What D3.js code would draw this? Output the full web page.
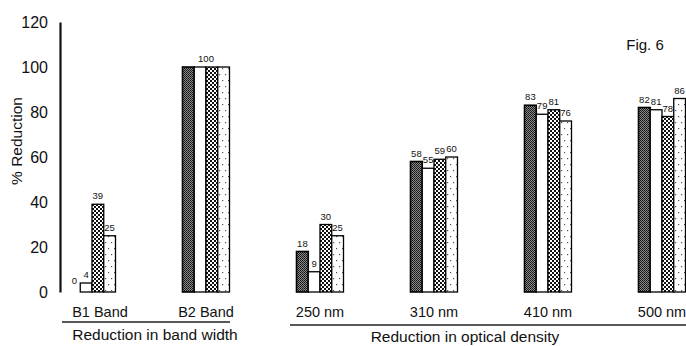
<!DOCTYPE html>
<html>
<head>
<meta charset="utf-8">
<script src="https://cdn.jsdelivr.net/npm/d3@7"></script>
<style>
  body { margin: 0; background: #fff; }
  svg { display: block; font-family: Arial, "Liberation Sans", sans-serif; }
</style>
</head>
<body>
<div id="chart"></div>
<script>
// data
const categories = ["B1 Band", "B2 Band", "250 nm", "310 nm", "410 nm", "500 nm"];
const series1 = [0, 100, 18, 58, 83, 82];
const series2 = [4, 100, 9, 55, 79, 81];
const series3 = [39, 100, 30, 59, 81, 78];
const series4 = [25, 100, 25, 60, 76, 86];
const yTicks = [0, 20, 40, 60, 80, 100, 120];
const groupTitles = [
  {text: "Reduction in band width", from: "B1 Band", to: "B2 Band"},
  {text: "Reduction in optical density", from: "250 nm", to: "500 nm"}
];
const singleLabelGroups = ["B2 Band"]; // only one "100" printed over the group

const width = 686, height = 346;
const seriesList = [series1, series2, series3, series4];

const svg = d3.select("#chart").append("svg")
  .attr("width", width)
  .attr("height", height);

// fill patterns
const defs = svg.append("defs");

const p1 = defs.append("pattern").attr("id", "pat1")
  .attr("patternUnits", "userSpaceOnUse").attr("width", 2).attr("height", 2);
p1.append("rect").attr("width", 2).attr("height", 2).attr("fill", "#8a8a8a");
p1.append("rect").attr("width", 1).attr("height", 1).attr("fill", "#111");
p1.append("rect").attr("x", 1).attr("y", 1).attr("width", 1).attr("height", 1).attr("fill", "#222");

const p3 = defs.append("pattern").attr("id", "pat3")
  .attr("patternUnits", "userSpaceOnUse").attr("width", 4).attr("height", 4);
p3.append("rect").attr("width", 4).attr("height", 4).attr("fill", "#fff");
p3.append("rect").attr("width", 2).attr("height", 2).attr("fill", "#111");
p3.append("rect").attr("x", 2).attr("y", 2).attr("width", 2).attr("height", 2).attr("fill", "#111");

const p4 = defs.append("pattern").attr("id", "pat4")
  .attr("patternUnits", "userSpaceOnUse").attr("width", 6).attr("height", 12);
p4.append("rect").attr("width", 6).attr("height", 12).attr("fill", "#fff");
p4.append("rect").attr("x", 1).attr("y", 2).attr("width", 1.2).attr("height", 1.2).attr("fill", "#555");
p4.append("rect").attr("x", 4).attr("y", 8).attr("width", 1.2).attr("height", 1.2).attr("fill", "#555");

const fills = ["url(#pat1)", "#fff", "url(#pat3)", "url(#pat4)"];

// scales
const x = d3.scalePoint()
  .domain(categories)
  .range([92, 662]);

const xInner = d3.scaleBand()
  .domain(d3.range(seriesList.length))
  .range([-23.5, 23.5])
  .padding(0);

const y = d3.scaleLinear()
  .domain([0, 120])
  .range([292, 22]);

// y axis
const yAxis = svg.append("g")
  .attr("transform", "translate(60,0)")
  .call(d3.axisLeft(y).tickValues(yTicks).tickSize(0).tickSizeOuter(0).tickPadding(12));
yAxis.select(".domain").attr("stroke", "#111").attr("stroke-width", 2.2);
yAxis.selectAll("text").attr("font-size", 16).attr("fill", "#111")
  .attr("font-family", "Arial, 'Liberation Sans', sans-serif");

svg.append("text")
  .attr("transform", "translate(22,141) rotate(-90)")
  .attr("text-anchor", "middle")
  .attr("font-size", 15.5)
  .attr("fill", "#111")
  .text("% Reduction");

// bars
const groups = svg.append("g").selectAll("g")
  .data(categories)
  .join("g")
  .attr("transform", d => `translate(${x(d)},0)`);

groups.each(function(cat, ci) {
  const g = d3.select(this);
  const vals = seriesList.map(s => s[ci]);
  vals.forEach((v, si) => {
    if (v > 0) {
      g.append("rect")
        .attr("x", xInner(si))
        .attr("y", y(v))
        .attr("width", xInner.bandwidth())
        .attr("height", y(0) - y(v))
        .attr("fill", fills[si])
        .attr("stroke", "#000")
        .attr("stroke-width", si === 0 ? 1.6 : 1.3);
    }
  });
  if (singleLabelGroups.includes(cat)) {
    g.append("text")
      .attr("x", 0)
      .attr("y", y(vals[0]) - 5)
      .attr("text-anchor", "middle")
      .attr("font-size", 9.5)
      .attr("fill", "#111")
      .text(vals[0]);
  } else {
    vals.forEach((v, si) => {
      g.append("text")
        .attr("x", xInner(si) + xInner.bandwidth() / 2)
        .attr("y", y(v) - (v > 0 ? 5 : 8))
        .attr("text-anchor", "middle")
        .attr("font-size", 9.5)
        .attr("fill", "#111")
        .text(v);
    });
  }
});

// category labels
svg.append("g").selectAll("text")
  .data(categories)
  .join("text")
  .attr("x", d => x(d) + (d === categories[0] ? 8 : 0))
  .attr("y", 317)
  .attr("text-anchor", "middle")
  .attr("font-size", 14.5)
  .attr("fill", "#111")
  .text(d => d);

// group underlines and titles
const lineY = [322, 325];
const titleX = [155, 465];
groupTitles.forEach((gt, i) => {
  svg.append("line")
    .attr("x1", x(gt.from) - 30)
    .attr("x2", x(gt.to) + 24)
    .attr("y1", lineY[i])
    .attr("y2", lineY[i])
    .attr("stroke", "#222")
    .attr("stroke-width", 1.3);
  svg.append("text")
    .attr("x", titleX[i])
    .attr("y", 340 + i * 2)
    .attr("text-anchor", "middle")
    .attr("font-size", 15.5)
    .attr("fill", "#111")
    .text(gt.text);
});

svg.append("text")
  .attr("x", 645)
  .attr("y", 50)
  .attr("text-anchor", "middle")
  .attr("font-size", 15)
  .attr("fill", "#111")
  .text("Fig. 6");
</script>
</body>
</html>
